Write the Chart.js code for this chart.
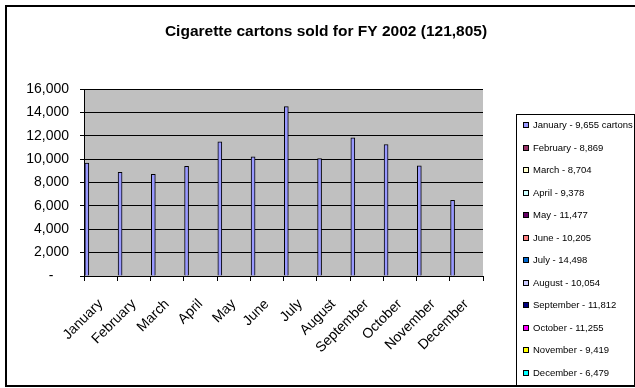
<!DOCTYPE html>
<html>
<head>
<meta charset="utf-8">
<script src="https://cdn.jsdelivr.net/npm/chart.js@4/dist/chart.umd.min.js"></script>
<style>
    html, body { margin: 0; padding: 0; background: #ffffff; }
    #wrap { width: 635px; height: 388px; position: relative; }
</style>
</head>
<body>
<div id="wrap"><canvas id="chart"></canvas></div>
<script>
// Monthly carton sales, FY 2002
const months = ['January', 'February', 'March', 'April', 'May', 'June',
    'July', 'August', 'September', 'October', 'November', 'December'];
const cartons = [9655, 8869, 8704, 9378, 11477, 10205, 14498, 10054, 11812, 11255, 9419, 6479];
const legendColors = ['#9999FF', '#993366', '#FFFFCC', '#CCFFFF', '#660066', '#FF8080',
    '#0066CC', '#CCCCFF', '#000080', '#FF00FF', '#FFFF00', '#00FFFF'];
const yTicks = [0, 2000, 4000, 6000, 8000, 10000, 12000, 14000, 16000];
const titleText = 'Cigarette cartons sold for FY 2002 (121,805)';

const FONT = "'Liberation Sans', Arial, sans-serif";

const fmt = v => v.toLocaleString('en-US');

// Legend text, first entry carries the unit
const legendLabels = months.map((m, i) => `${m} - ${fmt(cartons[i])}${i === 0 ? ' cartons' : ''}`);

/**
 * Grey plot area, outer frame
 */
const framePlugin = {
    id: 'frame',
    beforeDraw(chart) {
        const { ctx, chartArea: a } = chart;
        ctx.save();
        ctx.fillStyle = '#ffffff';
        ctx.fillRect(0, 0, chart.width, chart.height);
        ctx.fillStyle = '#C0C0C0';
        ctx.fillRect(a.left, a.top, a.right - a.left, a.bottom - a.top);
        ctx.restore();
    },
    afterDraw(chart) {
        const { ctx } = chart;
        ctx.save();
        ctx.strokeStyle = '#000000';
        ctx.lineWidth = 2;
        ctx.strokeRect(6, 6, 700, 380);
        ctx.restore();
    }
};

/**
 * Boxed legend on the right, one swatch per month
 */
const boxLegendPlugin = {
    id: 'boxLegend',
    afterDraw(chart) {
        const { ctx } = chart;
        ctx.save();
        ctx.fillStyle = '#ffffff';
        ctx.fillRect(516, 114, 119, 272);
        ctx.strokeStyle = '#000000';
        ctx.lineWidth = 1;
        ctx.strokeRect(516.5, 114.5, 118, 271);

        ctx.font = `9.5px ${FONT}`;
        ctx.textBaseline = 'middle';
        ctx.textAlign = 'left';
        legendLabels.forEach((label, i) => {
            const y = Math.round(125 + i * 22.5);
            ctx.fillStyle = legendColors[i];
            ctx.fillRect(523, y - 3, 6, 6);
            ctx.strokeStyle = '#000000';
            ctx.strokeRect(523.5, y - 2.5, 5, 5);
            ctx.fillStyle = '#000000';
            ctx.fillText(label, 533, y + 0.5);
        });
        ctx.restore();
    }
};

const chart = new Chart(document.getElementById('chart'), {
    type: 'bar',
    data: {
        labels: months,
        datasets: [{
            label: 'Cartons',
            data: cartons.map((v, i) => ({ x: i, y: v })),
            xAxisID: 'xb',
            yAxisID: 'y',
            backgroundColor: '#9999FF',
            borderColor: '#000000',
            borderWidth: 1,
            barThickness: 4
        }]
    },
    options: {
        responsive: true,
        maintainAspectRatio: false,
        animation: false,
        layout: { padding: { left: 17, right: 0, top: 0, bottom: 0 } },
        plugins: {
            legend: { display: false },
            tooltip: { enabled: false },
            title: {
                display: true,
                text: titleText,
                color: '#000000',
                font: { family: FONT, size: 15.5, weight: 'bold', lineHeight: 1.2 },
                padding: { top: 22.7, bottom: 47.7 }
            }
        },
        scales: {
            x: {
                type: 'category',
                offset: true,
                grid: {
                    offset: true,
                    drawOnChartArea: false,
                    color: '#000000',
                    tickLength: 5
                },
                border: { display: true, color: '#000000' },
                ticks: {
                    color: '#000000',
                    font: { family: FONT, size: 14 },
                    minRotation: 45,
                    maxRotation: 45,
                    autoSkip: false,
                    padding: 15
                },
                afterFit: s => { s.height = 112; }
            },
            xb: {
                type: 'linear',
                display: false,
                offset: false,
                min: -0.085,
                max: 11.915
            },
            y: {
                min: 0,
                max: 16000,
                afterBuildTicks: s => { s.ticks = yTicks.map(v => ({ value: v })); },
                grid: { color: '#000000', tickLength: 4 },
                border: { display: true, color: '#000000' },
                ticks: {
                    color: '#000000',
                    font: { family: FONT, size: 14 },
                    padding: 11,
                    callback: v => (v === 0 ? '-    ' : fmt(v))
                },
                afterFit: s => { s.width = 67; }
            },
            yr: {
                type: 'linear',
                position: 'right',
                grid: { display: false },
                border: { display: false },
                ticks: { display: false },
                afterFit: s => { s.width = 152; }
            }
        }
    },
    plugins: [framePlugin, boxLegendPlugin]
});
</script>
</body>
</html>
